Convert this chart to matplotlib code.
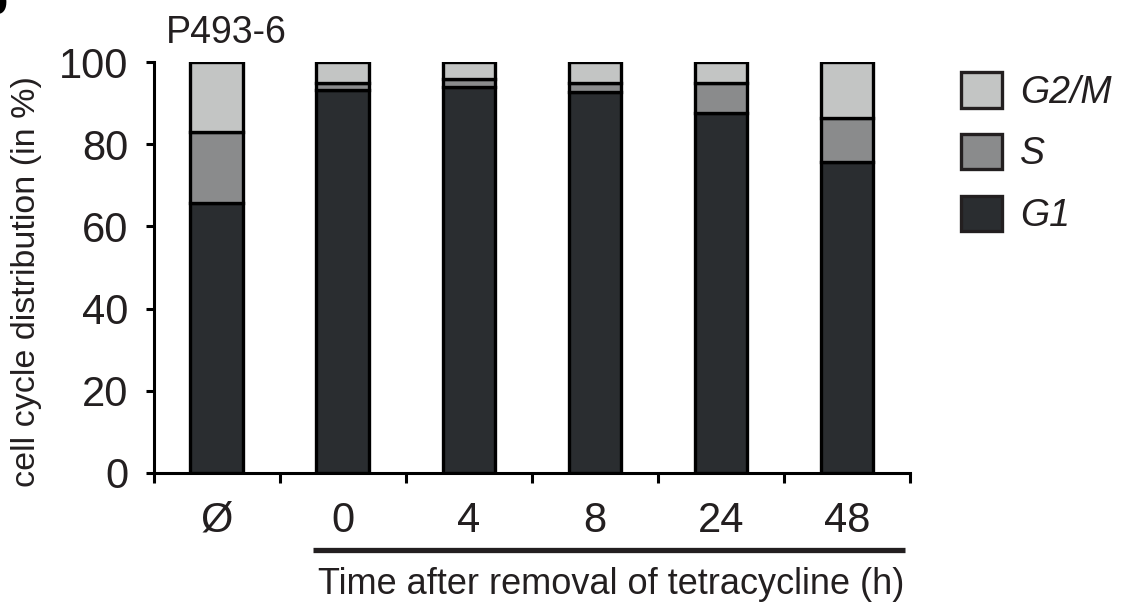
import matplotlib
matplotlib.use("Agg")
import matplotlib.pyplot as plt
from matplotlib.patches import Patch
import matplotlib.transforms as mtransforms
import numpy as np

plt.rcParams['font.family'] = ['Liberation Sans', 'DejaVu Sans']

categories = ["Ø", "0", "4", "8", "24", "48"]
g1 = [65.8, 93.2, 94.0, 92.8, 87.5, 75.7]
s_phase = [17.2, 1.6, 1.8, 2.0, 7.3, 10.7]
g2m = [17.0, 5.2, 4.2, 5.2, 5.2, 13.6]
series_names = ["G1", "S", "G2/M"]
yticks = [0, 20, 40, 60, 80, 100]

col_g1 = "#2a2d30"
col_s = "#8a8b8c"
col_g2m = "#c3c5c4"
txt = "#231f20"

W, H = 1133, 607
fig = plt.figure(figsize=(W / 100, H / 100), dpi=100)
left, right, bottom, top = 153.5, 910, 473, 62
ax = fig.add_axes([left / W, 1 - bottom / H, (right - left) / W, (bottom - top) / H])

x = np.arange(len(categories))
bw = 0.415
lw = 2.4
ax.bar(x, g1, bw, color=col_g1, edgecolor="black", linewidth=lw, zorder=3)
ax.bar(x, s_phase, bw, bottom=g1, color=col_s, edgecolor="black", linewidth=lw, zorder=3)
bot3 = [a + b for a, b in zip(g1, s_phase)]
ax.bar(x, g2m, bw, bottom=bot3, color=col_g2m, edgecolor="black", linewidth=lw, zorder=3)

ax.set_xlim(-0.5, len(categories) - 0.5)
ax.set_ylim(0, 100)
ax.set_yticks(yticks)
ax.set_yticklabels([str(v) for v in yticks], fontsize=30, color=txt)
ax.set_xticks(x)
ax.set_xticklabels(categories, fontsize=30, color=txt)
ax.tick_params(axis="x", which="major", length=0, pad=20)
ax.set_xticks(np.arange(-0.5, len(categories)), minor=True)
ax.tick_params(axis="x", which="minor", length=7, width=2.2, direction="out", color="black")
ax.tick_params(axis="y", length=6, width=2.2, direction="out", pad=12, color="black")

for sp in ["top", "right"]:
    ax.spines[sp].set_visible(False)
for sp in ["left", "bottom"]:
    ax.spines[sp].set_linewidth(2.2)
    ax.spines[sp].set_color("black")

# underline below the time points
trans = mtransforms.blended_transform_factory(ax.transData, ax.transAxes)
ax.plot([0.765, 5.46], [-0.188, -0.188], transform=trans, color=txt, lw=3.8,
        clip_on=False, solid_capstyle="butt")

fig.text(611 / W, 1 - 584 / H, "Time after removal of tetracycline (h)", fontsize=26,
         color=txt, ha="center", va="center")
fig.text(27 / W, 1 - 282 / H, "cell cycle distribution (in %)", fontsize=24.5,
         color=txt, ha="center", va="center", rotation=90)
fig.text(166 / W, 1 - 43 / H, "P493-6", fontsize=27, color=txt, ha="left", va="baseline")
fig.text(7 / W, 1 - 14 / H, "b", fontsize=32, fontweight="bold", color="black",
         ha="right", va="baseline")

handles = [Patch(facecolor=col_g2m, edgecolor=txt, linewidth=2.4),
           Patch(facecolor=col_s, edgecolor=txt, linewidth=2.4),
           Patch(facecolor=col_g1, edgecolor=txt, linewidth=2.4)]
leg = fig.legend(handles, ["G2/M", "S", "G1"], loc="upper left",
                 bbox_to_anchor=(961 / W, 1 - 72 / H), frameon=False,
                 borderpad=0, borderaxespad=0, handlelength=1.08, handleheight=1.08,
                 handletextpad=0.5, labelspacing=0.62,
                 prop={"size": 27, "style": "italic", "family": "Liberation Sans"})
for t in leg.get_texts():
    t.set_color(txt)

fig.savefig("out.png", dpi=100)
